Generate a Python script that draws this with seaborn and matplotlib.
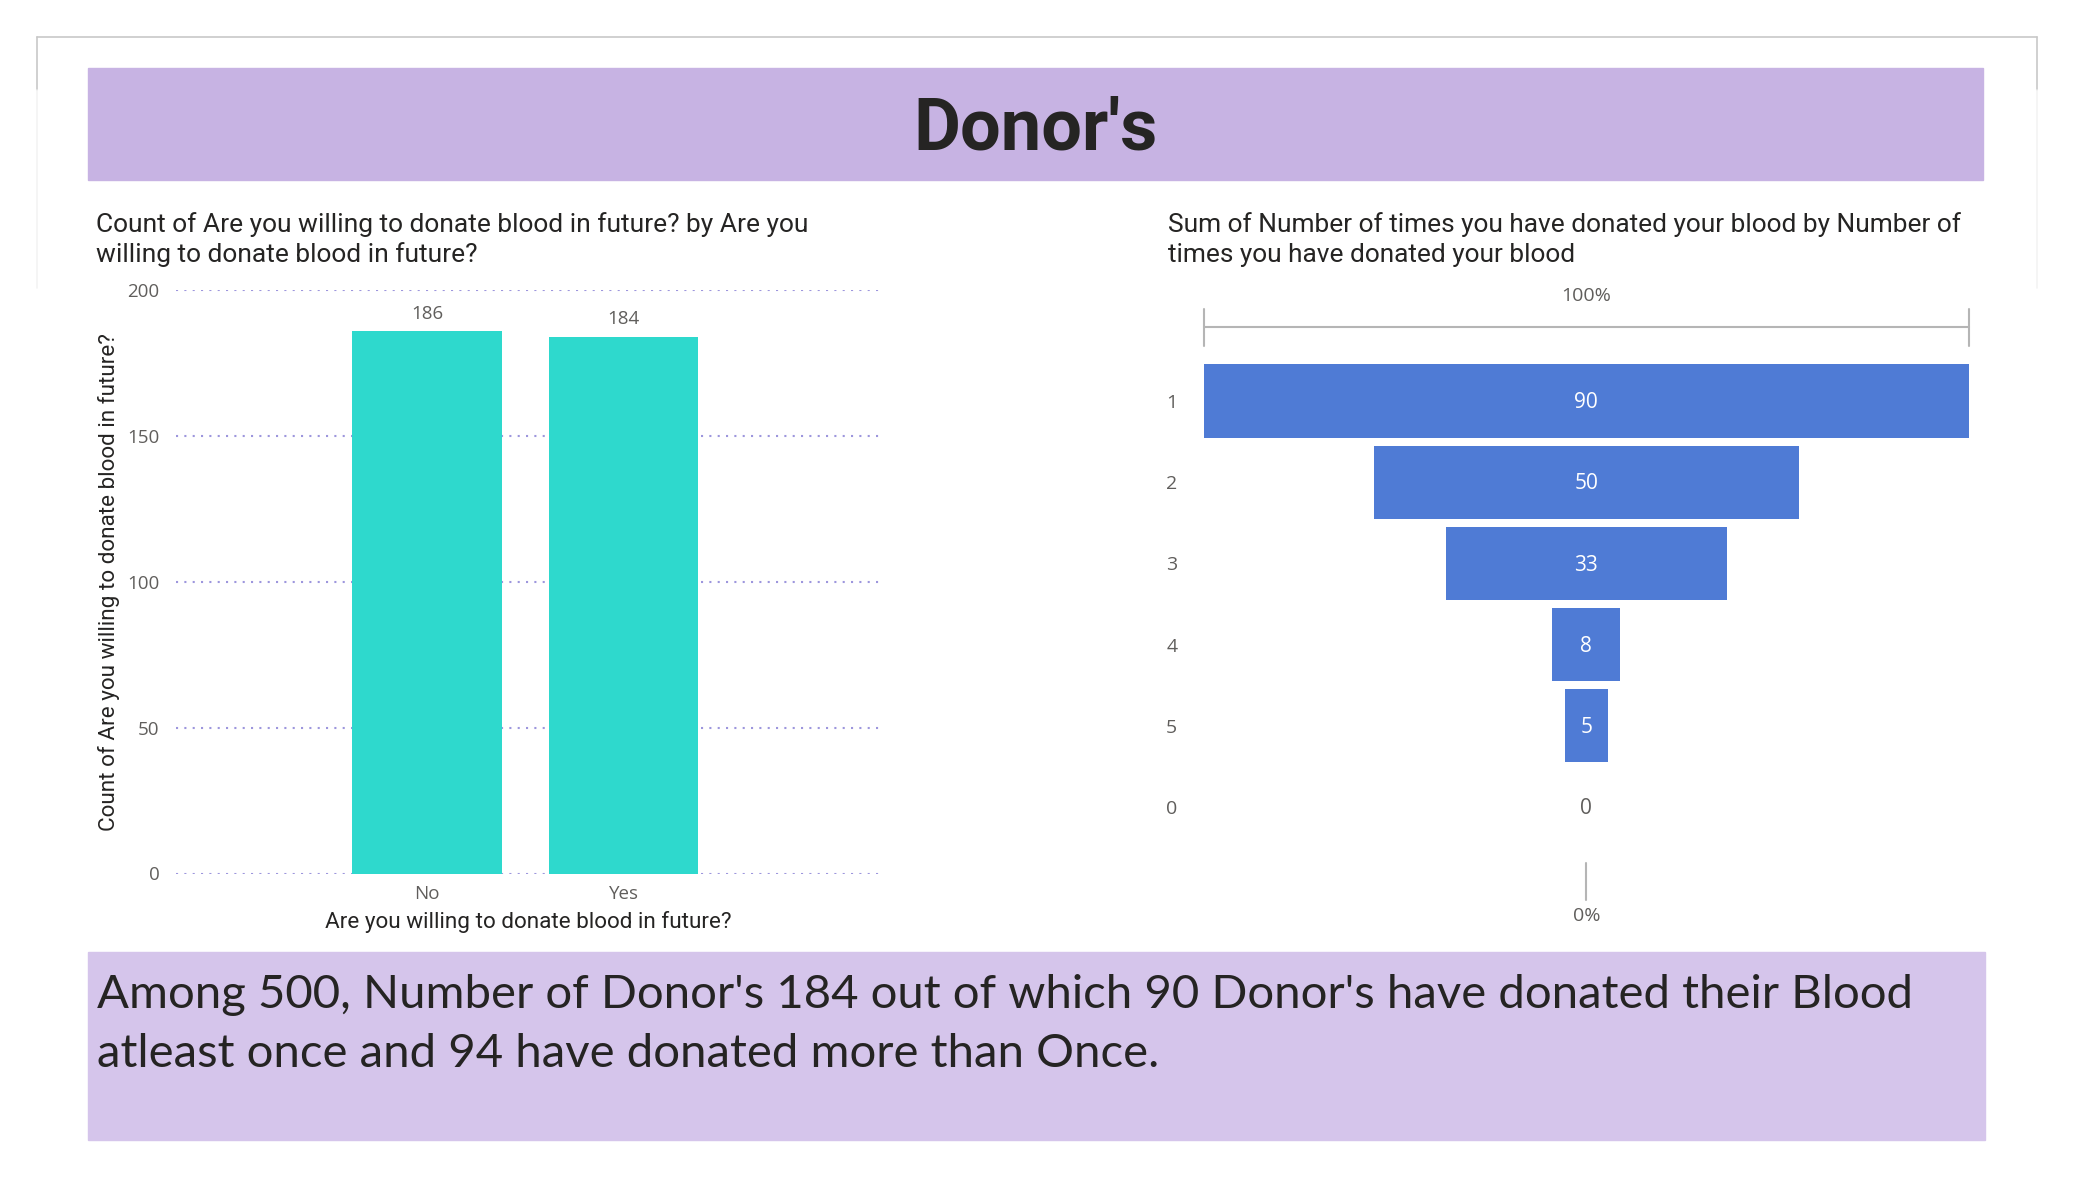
"""
Painel de doadores: barras + funil
"""

import matplotlib
matplotlib.use("Agg")
import matplotlib.pyplot as plt
import seaborn as sns
from matplotlib.lines import Line2D
from matplotlib.patches import Rectangle

# -----------------------------
# DADOS
# -----------------------------
respostas = ["No", "Yes"]
contagem = [186, 184]
ticks_contagem = [0, 50, 100, 150, 200]

vezes = ["1", "2", "3", "4", "5", "0"]
soma_vezes = [90, 50, 33, 8, 5, 0]

titulo = "Donor's"
sub_esq = ["Count of Are you willing to donate blood in future? by Are you",
           "willing to donate blood in future?"]
sub_dir = ["Sum of Number of times you have donated your blood by Number of",
           "times you have donated your blood"]
rotulo_y = "Count of Are you willing to donate blood in future?"
rotulo_x = "Are you willing to donate blood in future?"
resumo = ["Among 500, Number of Donor's 184 out of which 90 Donor's have donated their Blood",
          "atleast once and 94 have donated more than Once."]

# -----------------------------
# CONFIGURAÇÕES
# -----------------------------
W, H = 2075, 1200
sns.set_theme(style="white")
plt.rcParams["font.family"] = ["Open Sans", "DejaVu Sans"]

CINZA = "#605E5C"
ESCURO = "#252423"
DIN = ["Roboto", "DejaVu Sans"]


def caixa(x0, y0, x1, y1):
    return [x0 / W, 1 - y1 / H, (x1 - x0) / W, (y1 - y0) / H]


def fx(x):
    return x / W


def fy(y):
    return 1 - y / H


fig = plt.figure(figsize=(W / 100, H / 100), dpi=100)

# moldura externa
for (x0, y0, x1, y1, cor) in [(37, 37, 2037, 37, "#c8c8c8"), (37, 37, 37, 90, "#c8c8c8"),
                              (2037, 37, 2037, 90, "#c8c8c8"), (37, 90, 37, 288, "#f3f3f3"),
                              (2037, 90, 2037, 288, "#f3f3f3")]:
    fig.add_artist(Line2D([fx(x0), fx(x1)], [fy(y0), fy(y1)], color=cor, lw=1.2))

# faixa do título
fig.patches.append(Rectangle((fx(88), fy(180)), (1983 - 88) / W, (180 - 67.7) / H,
                             transform=fig.transFigure, color="#C7B3E3", zorder=0))
fig.text(fx(1036), fy(130), titulo, ha="center", va="center", fontsize=52,
         fontweight="bold", family=DIN, color=ESCURO)

# faixa do resumo
fig.patches.append(Rectangle((fx(88), fy(1140)), (1985 - 88) / W, (1140 - 952) / H,
                             transform=fig.transFigure, color="#D5C5EB", zorder=0))
fig.text(fx(97), fy(1008), resumo[0], ha="left", va="baseline", fontsize=34,
         family=["Lato", "DejaVu Sans"], color=ESCURO)
fig.text(fx(97), fy(1067), resumo[1], ha="left", va="baseline", fontsize=34,
         family=["Lato", "DejaVu Sans"], color=ESCURO)

# subtítulos
for i, linha in enumerate(sub_esq):
    fig.text(fx(96), fy(225 + 30 * i), linha, ha="left", va="center", fontsize=19,
             family=DIN, color=ESCURO)
for i, linha in enumerate(sub_dir):
    fig.text(fx(1168), fy(225 + 30 * i), linha, ha="left", va="center", fontsize=18.9,
             family=DIN, color=ESCURO)

# -----------------------------
# GRÁFICO 1: barras
# -----------------------------
ax1 = fig.add_axes(caixa(176, 290, 880, 873.5))
sns.barplot(x=respostas, y=contagem, color="#2ED9CD", saturation=1, width=0.76,
            linewidth=0, ax=ax1)
ax1.set_ylim(0, 200)
ax1.set_yticks(ticks_contagem)
ax1.set_xlim(-1.277, 2.305)
ax1.set_axisbelow(True)
ax1.yaxis.grid(True, color="#9d96dd", linestyle=(0, (1, 3)), linewidth=1.5)
ax1.xaxis.grid(False)
sns.despine(ax=ax1, left=True, bottom=True)
ax1.tick_params(axis="both", length=0, labelsize=13.5, colors=CINZA)
ax1.tick_params(axis="y", pad=12)
ax1.tick_params(axis="x", pad=8)
ax1.bar_label(ax1.containers[0], padding=6, fontsize=13.5, color=CINZA)
ax1.set_xlabel("")
ax1.set_ylabel("")
fig.text(fx(109), fy(582), rotulo_y, rotation=90, ha="center", va="center",
         fontsize=16.2, family=DIN, color=ESCURO)
fig.text(fx(528), fy(922), rotulo_x, ha="center", va="center",
         fontsize=16.2, family=DIN, color=ESCURO)

# -----------------------------
# GRÁFICO 2: funil
# -----------------------------
ax2 = fig.add_axes(caixa(1203.7, 360.4, 1969, 847.6))
sns.barplot(x=soma_vezes, y=vezes, order=vezes, orient="h", color="#4F7BD5",
            saturation=1, width=0.9, linewidth=0, ax=ax2)
for p in ax2.patches:
    p.set_x(-p.get_width() / 2)
meio = max(soma_vezes) / 2
ax2.set_xlim(-meio, meio)
ax2.set_ylim(len(vezes) - 0.5, -0.5)
ax2.set_xticks([])
ax2.set_xlabel("")
ax2.set_ylabel("")
ax2.grid(False)
sns.despine(ax=ax2, left=True, bottom=True)
ax2.tick_params(axis="y", length=0, labelsize=14, colors=CINZA, pad=19)

for i, v in enumerate(soma_vezes):
    ax2.text(0, i + 0.02, str(v), ha="center", va="center", fontsize=15,
             color="white" if v > 0 else CINZA)

# régua de 100% no topo e 0% embaixo
cor_regua = "#b5b5b5"
ax2.plot([-meio, meio], [-0.91, -0.91], color=cor_regua, lw=1.5, clip_on=False)
ax2.plot([-meio, -meio], [-1.13, -0.68], color=cor_regua, lw=1.5, clip_on=False)
ax2.plot([meio, meio], [-1.13, -0.68], color=cor_regua, lw=1.5, clip_on=False)
ax2.text(0, -1.29, "100%", ha="center", va="center", fontsize=14, color=CINZA)
ax2.plot([0, 0], [5.69, 6.15], color=cor_regua, lw=1.5, clip_on=False)
ax2.text(0, 6.34, "0%", ha="center", va="center", fontsize=14, color=CINZA)

plt.savefig("out.png", dpi=100)
